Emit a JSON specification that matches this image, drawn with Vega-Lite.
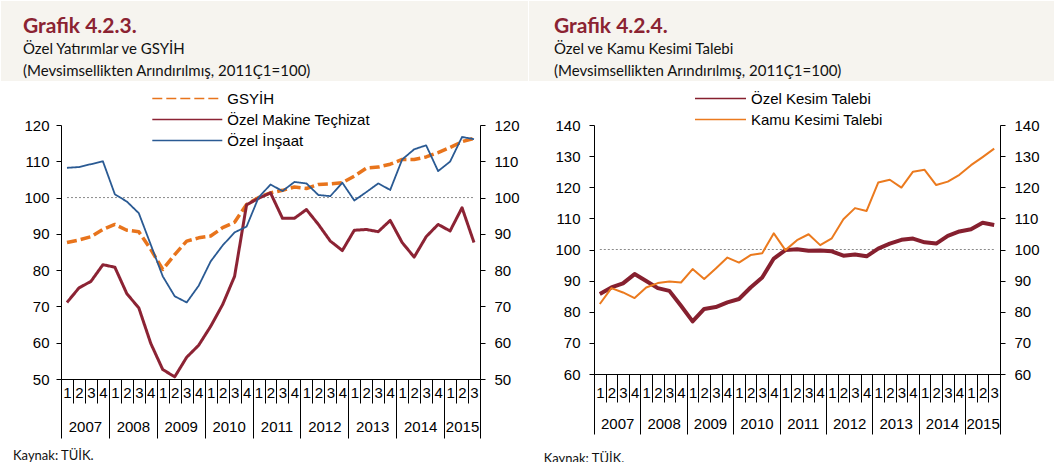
{
  "$schema": "https://vega.github.io/schema/vega-lite/v6.json",
  "background": "white",
  "padding": 0,
  "config": {
    "font": "Liberation Sans",
    "view": {"stroke": null},
    "axis": {"grid": false, "labelFont": "Liberation Sans", "labelFontSize": 15, "labelColor": "#000", "domainColor": "#000", "tickColor": "#000", "domainWidth": 1, "tickWidth": 1, "labelOverlap": false, "labelFlush": false, "labelBound": false, "title": null},
    "legend": {"labelFont": "Liberation Sans", "labelFontSize": 15, "labelColor": "#000", "symbolType": "stroke", "orient": "none", "rowPadding": 5, "clipHeight": 15, "padding": 0, "labelLimit": 400, "title": null},
    "line": {"strokeCap": "butt", "strokeJoin": "round"}
  },
  "datasets": {
    "yat": [
      {"i":0,"GSYİH":87.6,"Özel Makine Teçhizat":71.1,"Özel İnşaat":108.2},
      {"i":1,"GSYİH":88.3,"Özel Makine Teçhizat":75.1,"Özel İnşaat":108.4},
      {"i":2,"GSYİH":89.2,"Özel Makine Teçhizat":76.9,"Özel İnşaat":109.2},
      {"i":3,"GSYİH":91.2,"Özel Makine Teçhizat":81.5,"Özel İnşaat":110.0},
      {"i":4,"GSYİH":92.6,"Özel Makine Teçhizat":80.8,"Özel İnşaat":100.9},
      {"i":5,"GSYİH":91.0,"Özel Makine Teçhizat":73.5,"Özel İnşaat":98.9},
      {"i":6,"GSYİH":90.6,"Özel Makine Teçhizat":69.6,"Özel İnşaat":95.7},
      {"i":7,"GSYİH":85.7,"Özel Makine Teçhizat":59.8,"Özel İnşaat":87.0},
      {"i":8,"GSYİH":80.2,"Özel Makine Teçhizat":52.6,"Özel İnşaat":78.3},
      {"i":9,"GSYİH":84.3,"Özel Makine Teçhizat":50.6,"Özel İnşaat":72.8},
      {"i":10,"GSYİH":88.0,"Özel Makine Teçhizat":56.0,"Özel İnşaat":71.1},
      {"i":11,"GSYİH":88.9,"Özel Makine Teçhizat":59.3,"Özel İnşaat":75.7},
      {"i":12,"GSYİH":89.4,"Özel Makine Teçhizat":64.5,"Özel İnşaat":82.4},
      {"i":13,"GSYİH":91.7,"Özel Makine Teçhizat":70.5,"Özel İnşaat":86.8},
      {"i":14,"GSYİH":93.2,"Özel Makine Teçhizat":78.3,"Özel İnşaat":90.4},
      {"i":15,"GSYİH":98.1,"Özel Makine Teçhizat":98.0,"Özel İnşaat":92.0},
      {"i":16,"GSYİH":100.0,"Özel Makine Teçhizat":99.8,"Özel İnşaat":100.0},
      {"i":17,"GSYİH":101.3,"Özel Makine Teçhizat":101.3,"Özel İnşaat":103.6},
      {"i":18,"GSYİH":102.0,"Özel Makine Teçhizat":94.3,"Özel İnşaat":101.8},
      {"i":19,"GSYİH":102.9,"Özel Makine Teçhizat":94.3,"Özel İnşaat":104.3},
      {"i":20,"GSYİH":102.5,"Özel Makine Teçhizat":96.7,"Özel İnşaat":103.9},
      {"i":21,"GSYİH":103.6,"Özel Makine Teçhizat":92.6,"Özel İnşaat":100.7},
      {"i":22,"GSYİH":103.8,"Özel Makine Teçhizat":88.0,"Özel İnşaat":100.4},
      {"i":23,"GSYİH":104.1,"Özel Makine Teçhizat":85.4,"Özel İnşaat":104.1},
      {"i":24,"GSYİH":105.9,"Özel Makine Teçhizat":91.0,"Özel İnşaat":99.2},
      {"i":25,"GSYİH":108.1,"Özel Makine Teçhizat":91.2,"Özel İnşaat":101.5},
      {"i":26,"GSYİH":108.4,"Özel Makine Teçhizat":90.6,"Özel İnşaat":103.9},
      {"i":27,"GSYİH":109.2,"Özel Makine Teçhizat":93.7,"Özel İnşaat":102.1},
      {"i":28,"GSYİH":110.5,"Özel Makine Teçhizat":87.6,"Özel İnşaat":110.5},
      {"i":29,"GSYİH":110.5,"Özel Makine Teçhizat":83.6,"Özel İnşaat":113.3},
      {"i":30,"GSYİH":111.2,"Özel Makine Teçhizat":89.2,"Özel İnşaat":114.4},
      {"i":31,"GSYİH":112.4,"Özel Makine Teçhizat":92.6,"Özel İnşaat":107.3},
      {"i":32,"GSYİH":113.8,"Özel Makine Teçhizat":90.8,"Özel İnşaat":109.9},
      {"i":33,"GSYİH":115.4,"Özel Makine Teçhizat":97.2,"Özel İnşaat":116.7},
      {"i":34,"GSYİH":116.3,"Özel Makine Teçhizat":87.6,"Özel İnşaat":116.1}
    ],
    "tal": [
      {"i":0,"Özel Kesim Talebi":85.7,"Kamu Kesimi Talebi":82.5},
      {"i":1,"Özel Kesim Talebi":87.8,"Kamu Kesimi Talebi":87.6},
      {"i":2,"Özel Kesim Talebi":89.1,"Kamu Kesimi Talebi":86.2},
      {"i":3,"Özel Kesim Talebi":92.1,"Kamu Kesimi Talebi":84.4},
      {"i":4,"Özel Kesim Talebi":89.9,"Kamu Kesimi Talebi":87.8},
      {"i":5,"Özel Kesim Talebi":87.6,"Kamu Kesimi Talebi":89.2},
      {"i":6,"Özel Kesim Talebi":86.7,"Kamu Kesimi Talebi":89.7},
      {"i":7,"Özel Kesim Talebi":81.9,"Kamu Kesimi Talebi":89.4},
      {"i":8,"Özel Kesim Talebi":76.9,"Kamu Kesimi Talebi":93.7},
      {"i":9,"Özel Kesim Talebi":80.9,"Kamu Kesimi Talebi":90.5},
      {"i":10,"Özel Kesim Talebi":81.5,"Kamu Kesimi Talebi":93.9},
      {"i":11,"Özel Kesim Talebi":83.0,"Kamu Kesimi Talebi":97.4},
      {"i":12,"Özel Kesim Talebi":84.1,"Kamu Kesimi Talebi":95.8},
      {"i":13,"Özel Kesim Talebi":87.8,"Kamu Kesimi Talebi":98.2},
      {"i":14,"Özel Kesim Talebi":91.0,"Kamu Kesimi Talebi":98.8},
      {"i":15,"Özel Kesim Talebi":97.1,"Kamu Kesimi Talebi":105.2},
      {"i":16,"Özel Kesim Talebi":99.8,"Kamu Kesimi Talebi":99.8},
      {"i":17,"Özel Kesim Talebi":100.1,"Kamu Kesimi Talebi":103.0},
      {"i":18,"Özel Kesim Talebi":99.6,"Kamu Kesimi Talebi":104.9},
      {"i":19,"Özel Kesim Talebi":99.7,"Kamu Kesimi Talebi":101.4},
      {"i":20,"Özel Kesim Talebi":99.4,"Kamu Kesimi Talebi":103.6},
      {"i":21,"Özel Kesim Talebi":98.0,"Kamu Kesimi Talebi":109.7},
      {"i":22,"Özel Kesim Talebi":98.4,"Kamu Kesimi Talebi":113.3},
      {"i":23,"Özel Kesim Talebi":97.8,"Kamu Kesimi Talebi":112.4},
      {"i":24,"Özel Kesim Talebi":100.3,"Kamu Kesimi Talebi":121.5},
      {"i":25,"Özel Kesim Talebi":101.9,"Kamu Kesimi Talebi":122.4},
      {"i":26,"Özel Kesim Talebi":103.1,"Kamu Kesimi Talebi":119.9},
      {"i":27,"Özel Kesim Talebi":103.5,"Kamu Kesimi Talebi":125.0},
      {"i":28,"Özel Kesim Talebi":102.3,"Kamu Kesimi Talebi":125.6},
      {"i":29,"Özel Kesim Talebi":101.9,"Kamu Kesimi Talebi":120.7},
      {"i":30,"Özel Kesim Talebi":104.4,"Kamu Kesimi Talebi":121.8},
      {"i":31,"Özel Kesim Talebi":105.8,"Kamu Kesimi Talebi":124.0},
      {"i":32,"Özel Kesim Talebi":106.5,"Kamu Kesimi Talebi":127.1},
      {"i":33,"Özel Kesim Talebi":108.6,"Kamu Kesimi Talebi":129.7},
      {"i":34,"Özel Kesim Talebi":107.9,"Kamu Kesimi Talebi":132.4}
    ],
    "ref": [{"a": 0, "b": 34, "v": 100}]
  },
  "spacing": 10,
  "vconcat": [
    {
      "spacing": 0,
      "hconcat": [
        {
          "width": 527, "height": 80,
          "view": {"fill": "#F6F4EF", "stroke": null},
          "data": {"values": [{}]},
          "mark": {"type": "rule", "opacity": 0},
          "encoding": {},
          "title": {"text": "Grafik 4.2.3.", "subtitle": ["Özel Yatırımlar ve GSYİH", "(Mevsimsellikten Arındırılmış, 2011Ç1=100)"], "anchor": "start", "frame": "group", "orient": "top", "offset": -78, "dx": 22, "font": "Lato", "fontSize": 21, "fontWeight": "bold", "color": "#8B2332", "subtitleFont": "Lato", "subtitleFontSize": 15, "subtitleColor": "#111", "subtitlePadding": 5, "subtitleLineHeight": 22}
        },
        {
          "width": 527, "height": 80,
          "view": {"fill": "#F6F4EF", "stroke": null},
          "data": {"values": [{}]},
          "mark": {"type": "rule", "opacity": 0},
          "encoding": {},
          "title": {"text": "Grafik 4.2.4.", "subtitle": ["Özel ve Kamu Kesimi Talebi", "(Mevsimsellikten Arındırılmış, 2011Ç1=100)"], "anchor": "start", "frame": "group", "orient": "top", "offset": -78, "dx": 25, "font": "Lato", "fontSize": 21, "fontWeight": "bold", "color": "#8B2332", "subtitleFont": "Lato", "subtitleFontSize": 15, "subtitleColor": "#111", "subtitlePadding": 5, "subtitleLineHeight": 22}
        }
      ]
    },
    {
      "spacing": 21,
      "resolve": {
        "scale": {"color": "independent", "strokeDash": "independent", "x": "independent", "y": "independent"},
        "legend": {"color": "independent", "strokeDash": "independent"}
      },
      "hconcat": [
        {
          "width": 1, "height": 10,
          "data": {"values": [{}]},
          "mark": {"type": "rule", "opacity": 0},
          "encoding": {}
        },
        {
          "width": 419, "height": 254,
          "resolve": {"axis": {"x": "independent", "y": "independent"}},
          "layer": [
            {
              "data": {"name": "ref"},
              "mark": {"type": "rule", "stroke": "#8a8a8a", "strokeDash": [2, 2], "strokeWidth": 1},
              "encoding": {
                "x": {"field": "a", "type": "quantitative", "scale": {"domain": [-0.5, 34.5], "nice": false, "zero": false},
                      "axis": {"orient": "bottom", "values": [-0.5,0.5,1.5,2.5,3.5,4.5,5.5,6.5,7.5,8.5,9.5,10.5,11.5,12.5,13.5,14.5,15.5,16.5,17.5,18.5,19.5,20.5,21.5,22.5,23.5,24.5,25.5,26.5,27.5,28.5,29.5,30.5,31.5,32.5,33.5,34.5], "labels": false, "tickSize": 24, "domain": true}},
                "x2": {"field": "b"},
                "y": {"field": "v", "type": "quantitative", "scale": {"domain": [50, 120], "nice": false, "zero": false},
                      "axis": {"orient": "left", "values": [50,60,70,80,90,100,110,120], "tickSize": 5, "labelPadding": 7}}
              }
            },
            {
              "data": {"name": "yat"},
              "transform": [{"fold": ["GSYİH", "Özel Makine Teçhizat", "Özel İnşaat"], "as": ["s", "v"]}],
              "mark": {"type": "line"},
              "encoding": {
                "x": {"field": "i", "type": "quantitative", "scale": {"domain": [-0.5, 34.5], "nice": false, "zero": false},
                      "axis": {"orient": "bottom", "values": [0,1,2,3,4,5,6,7,8,9,10,11,12,13,14,15,16,17,18,19,20,21,22,23,24,25,26,27,28,29,30,31,32,33,34], "labelExpr": "'' + (datum.value % 4 + 1)", "ticks": false, "tickSize": 0, "labelPadding": 6.3, "domain": false}},
                "y": {"field": "v", "type": "quantitative", "scale": {"domain": [50, 120], "nice": false, "zero": false}, "axis": null},
                "color": {"field": "s", "type": "nominal", "sort": null,
                          "scale": {"domain": ["GSYİH", "Özel Makine Teçhizat", "Özel İnşaat"], "range": ["#E8741C", "#8C2334", "#2A5A93"]},
                          "legend": {"orient": "none", "legendX": 90.3, "legendY": -34, "symbolSize": 4900, "labelOffset": 4,
                                     "encode": {"symbols": {"update": {"strokeWidth": {"signal": "datum.value === 'GSYİH' ? 3.5 : datum.value === 'Özel Makine Teçhizat' ? 3 : 1.8"}}}}}},
                "strokeDash": {"field": "s", "type": "nominal", "sort": null,
                               "scale": {"domain": ["GSYİH", "Özel Makine Teçhizat", "Özel İnşaat"], "range": [[10, 4], [1, 0], [1, 0]]}},
                "strokeWidth": {"condition": [{"test": "datum.s === 'GSYİH'", "value": 3.5}, {"test": "datum.s === 'Özel Makine Teçhizat'", "value": 3}], "value": 1.8}
              }
            },
            {
              "data": {"name": "ref"},
              "mark": {"type": "rule", "opacity": 0},
              "encoding": {
                "x": {"field": "a", "type": "quantitative", "scale": {"domain": [-0.5, 34.5], "nice": false, "zero": false},
                      "axis": {"orient": "bottom", "values": [-0.5,3.5,7.5,11.5,15.5,19.5,23.5,27.5,31.5,34.5], "labels": false, "tickSize": 59, "domain": false}},
                "x2": {"field": "b"},
                "y": {"field": "v", "type": "quantitative", "scale": {"domain": [50, 120], "nice": false, "zero": false},
                      "axis": {"orient": "right", "values": [50,60,70,80,90,100,110,120], "tickSize": 5, "labelPadding": 9}}
              }
            },
            {
              "data": {"name": "ref"},
              "mark": {"type": "rule", "opacity": 0},
              "encoding": {
                "x": {"field": "a", "type": "quantitative", "scale": {"domain": [-0.5, 34.5], "nice": false, "zero": false},
                      "axis": {"orient": "bottom", "values": [1.5,5.5,9.5,13.5,17.5,21.5,25.5,29.5,33], "labelExpr": "'' + (2007 + floor(datum.value / 4))", "ticks": false, "tickSize": 0, "labelPadding": 40, "domain": false}},
                "x2": {"field": "b"},
                "y": {"field": "v", "type": "quantitative", "scale": {"domain": [50, 120], "nice": false, "zero": false}, "axis": null}
              }
            }
          ]
        },
        {
          "width": 406, "height": 249,
          "resolve": {"axis": {"x": "independent", "y": "independent"}},
          "layer": [
            {
              "data": {"name": "ref"},
              "mark": {"type": "rule", "stroke": "#8a8a8a", "strokeDash": [2, 2], "strokeWidth": 1},
              "encoding": {
                "x": {"field": "a", "type": "quantitative", "scale": {"domain": [-0.5, 34.5], "nice": false, "zero": false},
                      "axis": {"orient": "bottom", "values": [-0.5,0.5,1.5,2.5,3.5,4.5,5.5,6.5,7.5,8.5,9.5,10.5,11.5,12.5,13.5,14.5,15.5,16.5,17.5,18.5,19.5,20.5,21.5,22.5,23.5,24.5,25.5,26.5,27.5,28.5,29.5,30.5,31.5,32.5,33.5,34.5], "labels": false, "tickSize": 28, "domain": true}},
                "x2": {"field": "b"},
                "y": {"field": "v", "type": "quantitative", "scale": {"domain": [60, 140], "nice": false, "zero": false},
                      "axis": {"orient": "left", "values": [60,70,80,90,100,110,120,130,140], "tickSize": 5, "labelPadding": 9, "title": "x", "titleOpacity": 0, "titleFontSize": 10, "titlePadding": 3}}
              }
            },
            {
              "data": {"name": "tal"},
              "transform": [{"fold": ["Özel Kesim Talebi", "Kamu Kesimi Talebi"], "as": ["s", "v"]}],
              "mark": {"type": "line"},
              "encoding": {
                "x": {"field": "i", "type": "quantitative", "scale": {"domain": [-0.5, 34.5], "nice": false, "zero": false},
                      "axis": {"orient": "bottom", "values": [0,1,2,3,4,5,6,7,8,9,10,11,12,13,14,15,16,17,18,19,20,21,22,23,24,25,26,27,28,29,30,31,32,33,34], "labelExpr": "'' + (datum.value % 4 + 1)", "ticks": false, "tickSize": 0, "labelPadding": 11, "domain": false}},
                "y": {"field": "v", "type": "quantitative", "scale": {"domain": [60, 140], "nice": false, "zero": false}, "axis": null},
                "color": {"field": "s", "type": "nominal", "sort": null,
                          "scale": {"domain": ["Özel Kesim Talebi", "Kamu Kesimi Talebi"], "range": ["#86202F", "#EB7A1E"]},
                          "legend": {"orient": "none", "legendX": 100, "legendY": -34, "symbolSize": 2601, "labelOffset": 4,
                                     "encode": {"symbols": {"update": {"strokeWidth": {"signal": "datum.value === 'Özel Kesim Talebi' ? 4 : 2"}}}}}},
                "strokeWidth": {"condition": {"test": "datum.s === 'Özel Kesim Talebi'", "value": 4}, "value": 2}
              }
            },
            {
              "data": {"name": "ref"},
              "mark": {"type": "rule", "opacity": 0},
              "encoding": {
                "x": {"field": "a", "type": "quantitative", "scale": {"domain": [-0.5, 34.5], "nice": false, "zero": false},
                      "axis": {"orient": "bottom", "values": [-0.5,3.5,7.5,11.5,15.5,19.5,23.5,27.5,31.5,34.5], "labels": false, "tickSize": 60, "domain": false}},
                "x2": {"field": "b"},
                "y": {"field": "v", "type": "quantitative", "scale": {"domain": [60, 140], "nice": false, "zero": false},
                      "axis": {"orient": "right", "values": [60,70,80,90,100,110,120,130,140], "tickSize": 5, "labelPadding": 9}}
              }
            },
            {
              "data": {"name": "ref"},
              "mark": {"type": "rule", "opacity": 0},
              "encoding": {
                "x": {"field": "a", "type": "quantitative", "scale": {"domain": [-0.5, 34.5], "nice": false, "zero": false},
                      "axis": {"orient": "bottom", "values": [1.5,5.5,9.5,13.5,17.5,21.5,25.5,29.5,33], "labelExpr": "'' + (2007 + floor(datum.value / 4))", "ticks": false, "tickSize": 0, "labelPadding": 42, "domain": false}},
                "x2": {"field": "b"},
                "y": {"field": "v", "type": "quantitative", "scale": {"domain": [60, 140], "nice": false, "zero": false}, "axis": null}
              }
            }
          ]
        }
      ]
    },
    {
      "spacing": 0,
      "hconcat": [
        {
          "width": 527, "height": 20,
          "data": {"values": [{}]},
          "mark": {"type": "rule", "opacity": 0},
          "encoding": {},
          "title": {"text": "Kaynak: TÜİK.", "orient": "top", "anchor": "start", "frame": "group", "dx": 12, "offset": -8, "font": "Lato", "fontSize": 13, "fontWeight": "normal", "color": "#111"}
        },
        {
          "width": 527, "height": 20,
          "data": {"values": [{}]},
          "mark": {"type": "rule", "opacity": 0},
          "encoding": {},
          "title": {"text": "Kaynak: TÜİK.", "orient": "top", "anchor": "start", "frame": "group", "dx": 14.7, "offset": -11, "font": "Lato", "fontSize": 13, "fontWeight": "normal", "color": "#111"}
        }
      ]
    }
  ]
}
